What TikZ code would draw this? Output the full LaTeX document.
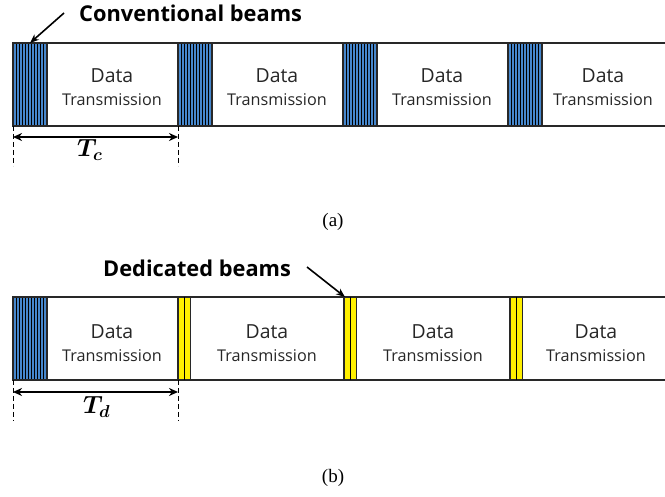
\documentclass[tikz,border=0pt]{standalone}
\usepackage{bm}
\usepackage{fontspec}
\setmainfont{Liberation Serif}
\newfontfamily\labfont{Open Sans}
\usetikzlibrary{arrows.meta}
\definecolor{beamblue}{RGB}{70,135,205}
\definecolor{beamyellow}{RGB}{255,240,0}
\definecolor{edgegray}{RGB}{40,40,40}
\definecolor{textgray}{RGB}{38,38,38}
\tikzset{
  strip/.style={draw=edgegray, line width=1.3pt},
  dtext/.style={font=\labfont\fontsize{19.4}{21}\selectfont, text=textgray, inner sep=0pt, anchor=base},
  ttext/.style={font=\labfont\fontsize{16.2}{18}\selectfont, text=textgray, inner sep=0pt, anchor=base},
  beamlabel/.style={font=\labfont\bfseries\fontsize{21.8}{24}\selectfont, inner sep=0pt, anchor=base west},
  callout/.style={-{Stealth[length=9pt,width=7pt]}, line width=1.6pt},
  spanarrow/.style={<->, >={Stealth[length=9pt,width=8pt]}, line width=1.6pt},
  guide/.style={dash pattern=on 5pt off 3pt, line width=1pt},
  sublabel/.style={font=\fontsize{19}{21}\selectfont, inner sep=0pt},
  periodlabel/.style={font=\fontsize{23}{25}\selectfont, inner sep=0pt, anchor=base west},
}
\begin{document}
\begin{tikzpicture}[x=1pt,y=-1pt]
\useasboundingbox (0,0) rectangle (665,497);
% ---------- (a) ----------
\draw[strip] (13,43) -- (665,43);
\draw[strip] (13,126) -- (665,126);
\foreach \k in {0,1,2,3}{
  \pgfmathsetmacro{\xa}{13+165*\k}
  \fill[beamblue] (\xa,43) rectangle ++(34,83);
  \foreach \i in {3,6,...,33}{\draw[line width=0.5pt] (\xa+\i,43) -- (\xa+\i,126);}
  \draw[strip] (\xa,43) rectangle ++(34,83);
}
\foreach \cx/\nm in {112/a1,277/a2,442/a3,603/a4}{
  \node[dtext] (d\nm) at (\cx,83) {Data};
  \node[ttext] (t\nm) at (\cx,106) {Transmission};
}
\node[beamlabel] (conv) at (79,22) {Conventional beams};
\coordinate (convtail) at (64,13);
\coordinate (convtip) at (30,43);
\draw[callout] (convtail) -- (convtip);
\coordinate (tca) at (13,126);
\coordinate (tcb) at (178,126);
\coordinate (tcc) at (13,166);
\coordinate (tcd) at (178,166);
\draw[guide] (tca) -- (tcc);
\draw[guide] (tcb) -- (tcd);
\coordinate (tcl) at (13,137);
\coordinate (tcr) at (178,137);
\draw[spanarrow] (tcl) -- (tcr);
\node[periodlabel] (tcnode) at (77,157) {$\bm{T_c}$};
\node[sublabel] (la) at (333,222) {(a)};
% ---------- (b) ----------
\draw[strip] (13,297) -- (665,297);
\draw[strip] (13,380) -- (665,380);
\fill[beamblue] (13,297) rectangle (47,380);
\foreach \i in {3,6,...,33}{\draw[line width=0.5pt] (13+\i,297) -- (13+\i,380);}
\draw[strip] (13,297) rectangle (47,380);
\foreach \xa in {178,344,510}{
  \draw[strip, fill=beamyellow] (\xa,297) rectangle ++(12.5,83);
  \draw[line width=1pt] (\xa+6.25,297) -- (\xa+6.25,380);
}
\foreach \cx/\nm in {112/b1,267/b2,433/b3,596/b4}{
  \node[dtext] (d\nm) at (\cx,339) {Data};
  \node[ttext] (t\nm) at (\cx,362) {Transmission};
}
\node[beamlabel] (ded) at (103,277) {Dedicated beams};
\coordinate (dedtail) at (307,267);
\coordinate (dedtip) at (345,297);
\draw[callout] (dedtail) -- (dedtip);
\coordinate (tda) at (13,380);
\coordinate (tdb) at (178,380);
\coordinate (tdc) at (13,421);
\coordinate (tdd) at (178,421);
\draw[guide] (tda) -- (tdc);
\draw[guide] (tdb) -- (tdd);
\coordinate (tdl) at (13,392);
\coordinate (tdr) at (178,392);
\draw[spanarrow] (tdl) -- (tdr);
\node[periodlabel] (tdnode) at (83,414) {$\bm{T_d}$};
\node[sublabel] (lb) at (333,478) {(b)};
\end{tikzpicture}
\end{document}
